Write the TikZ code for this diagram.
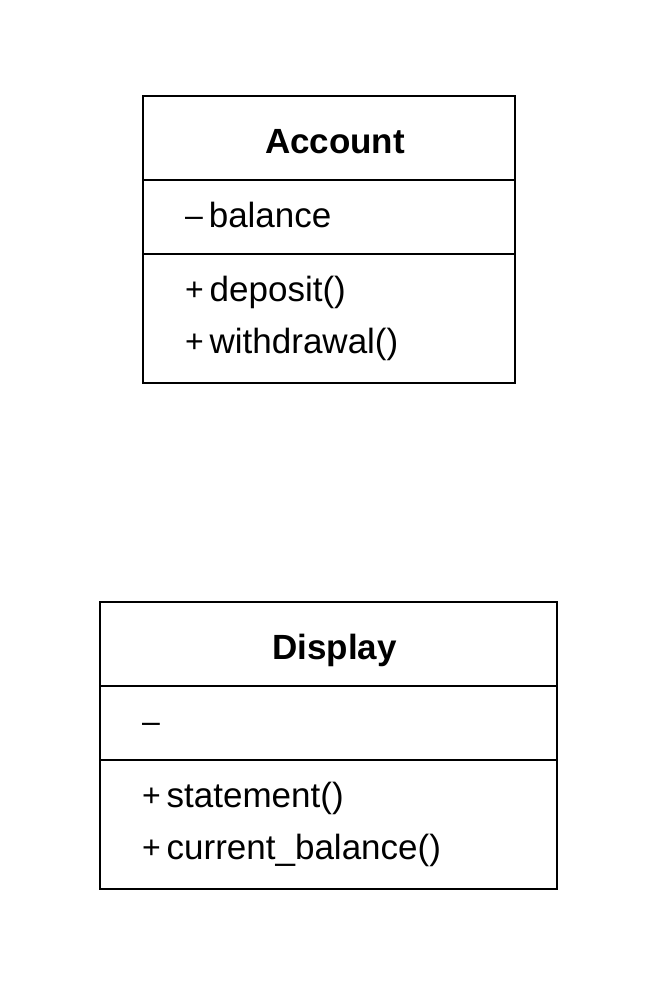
\documentclass[tikz,border=0pt]{standalone}
\usepackage{fontspec}
\setmainfont{Liberation Sans}
\usetikzlibrary{positioning}

\tikzset{
  classhead/.style={draw,outer sep=0pt,minimum height=84pt,text height=30pt,text depth=0pt,font=\fontsize{35}{52}\selectfont\bfseries},
  classpart/.style={draw,outer sep=0pt,inner xsep=42pt,align=left,font=\fontsize{35}{52}\selectfont},
  classattr/.style={classpart,text height=27pt,text depth=7pt},
}
\newcommand{\vis}[1]{\raisebox{1pt}{\fontsize{32}{52}\selectfont #1}\hspace{6pt}}

\begin{document}
\begin{tikzpicture}[x=1pt,y=-1pt,line width=2pt]
\useasboundingbox (0,0) rectangle (660,990);

% Account
\node[classhead,minimum width=372pt] (AccountHead) at (329,138) {\hspace*{12pt}Account};
\node[classattr,text width=288pt,minimum height=74pt,below=0pt of AccountHead] (AccountAttr) {\vis{–}balance};
\node[classpart,text width=288pt,minimum height=129pt,below=0pt of AccountAttr] (AccountOps) {\vis{+}deposit()\\\vis{+}withdrawal()};

% Display
\node[classhead,minimum width=457pt] (DisplayHead) at (328.5,644) {\hspace*{12pt}Display};
\node[classattr,text width=373pt,minimum height=74pt,below=0pt of DisplayHead] (DisplayAttr) {\vis{–}};
\node[classpart,text width=373pt,minimum height=129pt,below=0pt of DisplayAttr] (DisplayOps) {\vis{+}statement()\\\vis{+}current\_balance()};

\end{tikzpicture}
\end{document}
